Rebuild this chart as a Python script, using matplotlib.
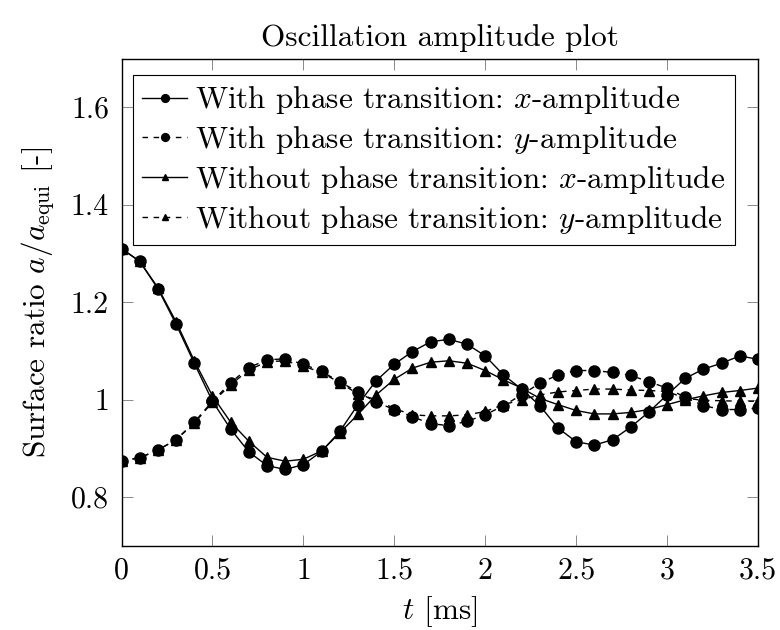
import matplotlib
matplotlib.use("Agg")
import matplotlib.pyplot as plt
from matplotlib.ticker import FuncFormatter, MultipleLocator

# time axis [ms]
t = [0.0, 0.1, 0.2, 0.3, 0.4, 0.5, 0.6, 0.7, 0.8, 0.9,
     1.0, 1.1, 1.2, 1.3, 1.4, 1.5, 1.6, 1.7, 1.8, 1.9,
     2.0, 2.1, 2.2, 2.3, 2.4, 2.5, 2.6, 2.7, 2.8, 2.9,
     3.0, 3.1, 3.2, 3.3, 3.4, 3.5]

# surface ratio a/a_equi
with_x = [1.310, 1.284, 1.228, 1.155, 1.075, 0.997, 0.940, 0.893, 0.865, 0.857,
          0.867, 0.894, 0.935, 0.990, 1.039, 1.073, 1.099, 1.119, 1.124, 1.114,
          1.090, 1.051, 1.022, 0.988, 0.942, 0.914, 0.907, 0.918, 0.944, 0.975,
          1.010, 1.044, 1.063, 1.075, 1.090, 1.083]
with_y = [0.875, 0.881, 0.897, 0.918, 0.954, 0.997, 1.035, 1.066, 1.082, 1.084,
          1.073, 1.058, 1.037, 1.016, 0.995, 0.980, 0.965, 0.951, 0.947, 0.956,
          0.969, 0.988, 1.010, 1.034, 1.051, 1.060, 1.060, 1.056, 1.050, 1.037,
          1.024, 1.005, 0.988, 0.980, 0.980, 0.983]
without_x = [1.310, 1.284, 1.230, 1.160, 1.080, 1.008, 0.954, 0.915, 0.882, 0.874,
             0.878, 0.895, 0.932, 0.970, 1.010, 1.042, 1.065, 1.077, 1.080, 1.075,
             1.060, 1.041, 1.024, 1.003, 0.990, 0.978, 0.971, 0.971, 0.974, 0.980,
             0.990, 1.000, 1.008, 1.015, 1.019, 1.024]
without_y = [0.875, 0.881, 0.897, 0.918, 0.952, 0.995, 1.031, 1.061, 1.078, 1.080,
             1.069, 1.056, 1.035, 1.012, 1.000, 0.982, 0.969, 0.967, 0.967, 0.969,
             0.976, 0.990, 1.000, 1.010, 1.016, 1.019, 1.022, 1.022, 1.020, 1.019,
             1.017, 1.003, 0.999, 0.998, 0.997, 0.997]

labels = [
    r"With phase transition: $x$-amplitude",
    r"With phase transition: $y$-amplitude",
    r"Without phase transition: $x$-amplitude",
    r"Without phase transition: $y$-amplitude",
]

plt.rcParams["font.family"] = ["cmr10", "DejaVu Serif"]
plt.rcParams["mathtext.fontset"] = "cm"
plt.rcParams["axes.formatter.use_mathtext"] = True
plt.rcParams["font.size"] = 22.5

fig = plt.figure(figsize=(7.8, 6.3), dpi=100)
ax = fig.add_axes([0.1558, 0.1333, 0.816, 0.7738])

dash = (0, (4, 4))
ax.plot(t, with_x, color="black", lw=1.0, marker="o", ms=8, label=labels[0])
ax.plot(t, with_y, color="black", lw=1.0, ls=dash, marker="o", ms=8, label=labels[1])
ax.plot(t, without_x, color="black", lw=1.0, marker="^", ms=7, label=labels[2])
ax.plot(t, without_y, color="black", lw=1.0, ls=dash, marker="^", ms=7, label=labels[3])

ax.set_xlim(0, 3.5)
ax.set_ylim(0.7, 1.7)
ax.xaxis.set_major_locator(MultipleLocator(0.5))
ax.set_yticks([0.8, 1.0, 1.2, 1.4, 1.6])
fmt = FuncFormatter(lambda v, p: f"{v:g}")
ax.xaxis.set_major_formatter(fmt)
ax.yaxis.set_major_formatter(fmt)

ax.tick_params(direction="in", length=8, width=0.6, color="#777777",
               top=True, right=True, labelsize=21.5)
ax.tick_params(axis="x", pad=8)
ax.tick_params(axis="y", pad=9)
for s in ax.spines.values():
    s.set_linewidth(1.0)

ax.set_title("Oscillation amplitude plot", fontsize=22.5, pad=9)
ax.set_xlabel(r"$t$ [ms]", labelpad=7)
ax.set_ylabel(r"Surface ratio $a/a_{\mathrm{equi}}$ [-]", labelpad=10)

leg = ax.legend(loc="upper left", bbox_to_anchor=(0.0173, 0.966), borderaxespad=0,
                frameon=True, fancybox=False, edgecolor="black", framealpha=1,
                markerscale=0.7, handlelength=1.45, handletextpad=0.26,
                labelspacing=0.25, borderpad=0.3)
leg.get_frame().set_linewidth(0.8)

fig.savefig("out.png", dpi=100)
